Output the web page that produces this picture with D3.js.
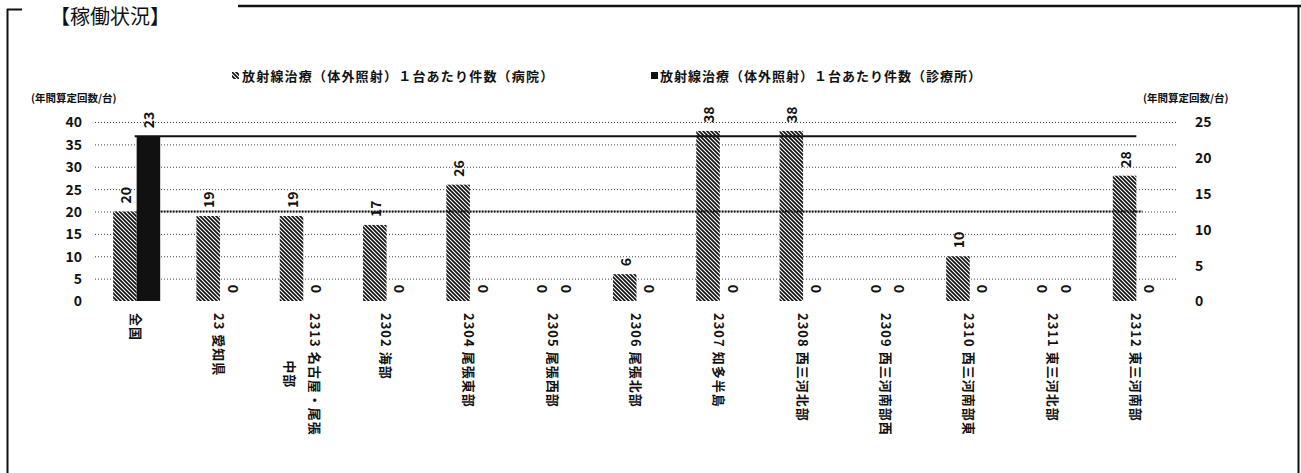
<!doctype html>
<html>
<head>
<meta charset="utf-8">
<script src="https://d3js.org/d3.v7.min.js"></script>
<style>
    body { margin:0; background:#fff; }
    text { font-family:"Noto Sans CJK JP","Noto Sans",sans-serif; fill:#111; }
</style>
</head>
<body>
<svg id="chart" width="1301" height="473" style="display:block;background:#fff"></svg>
<script>
// categories (a "\n" marks where the printed label wraps)
var categories = ["全国", "23 愛知県", "2313 名古屋・尾張\n中部", "2302 海部", "2304 尾張東部",
                  "2305 尾張西部", "2306 尾張北部", "2307 知多半島", "2308 西三河北部",
                  "2309 西三河南部西", "2310 西三河南部東", "2311 東三河北部", "2312 東三河南部"]
// 1台あたり件数 (病院) - left axis
var hospital = [20, 19, 19, 17, 26, 0, 6, 38, 38, 0, 10, 0, 28]
// 1台あたり件数 (診療所) - right axis
var clinic = [23, 0, 0, 0, 0, 0, 0, 0, 0, 0, 0, 0, 0]
var leftTicks = [0, 5, 10, 15, 20, 25, 30, 35, 40]
var rightTicks = [0, 5, 10, 15, 20, 25]
var seriesNames = ["放射線治療（体外照射）１台あたり件数（病院）", "放射線治療（体外照射）１台あたり件数（診療所）"]
var axisTitle = "(年間算定回数/台)"
var title = "【稼働状況】"

var svg = d3.select("#chart")

// hatch pattern
var defs = svg.append("defs")
var pat = defs.append("pattern").attr("id", "hatch").attr("patternUnits", "userSpaceOnUse")
    .attr("width", 4).attr("height", 4)
pat.append("rect").attr("width", 4).attr("height", 4).attr("fill", "#fff")
pat.append("path").attr("d", "M-1,-1L5,5M-1,3L1,5M3,-1L5,1")
    .attr("stroke", "#111").attr("stroke-width", 1.7)

// frame
svg.append("line").attr("x1", 7.5).attr("x2", 7.5).attr("y1", 9).attr("y2", 473).attr("stroke", "#111").attr("stroke-width", 2)
svg.append("line").attr("x1", 7).attr("x2", 22).attr("y1", 9.5).attr("y2", 9.5).attr("stroke", "#111").attr("stroke-width", 2)
svg.append("line").attr("x1", 238).attr("x2", 1301).attr("y1", 6).attr("y2", 6).attr("stroke", "#111").attr("stroke-width", 2.5)
svg.append("line").attr("x1", 1298.5).attr("x2", 1298.5).attr("y1", 6).attr("y2", 473).attr("stroke", "#111").attr("stroke-width", 2)
svg.append("text").text(title).attr("x", 50).attr("y", 24).attr("font-size", 20)

// scales
var x = d3.scaleBand().domain(categories).range([95, 1178])
var sub = d3.scaleBand().domain(["h", "c"]).range([0, x.bandwidth()]).paddingOuter(0.77)
var yL = d3.scaleLinear().domain([0, 40]).range([301, 122])
var yR = d3.scaleLinear().domain([0, 25]).range([301, 122])

// gridlines
var grid = svg.append("g").attr("transform", "translate(95,0)")
    .call(d3.axisLeft(yL).tickValues(leftTicks).tickSize(-(1178 - 95)).tickFormat(""))
grid.select(".domain").remove()
grid.selectAll("line").attr("stroke", "#444").attr("stroke-dasharray", "1,2").attr("stroke-width", 1)
grid.selectAll(".tick").filter(function(d) { return d == 0 }).remove()

// axes
var axL = svg.append("g").attr("transform", "translate(86,0)")
    .call(d3.axisLeft(yL).tickValues(leftTicks).tickSize(0).tickPadding(4))
var axR = svg.append("g").attr("transform", "translate(1189,0)")
    .call(d3.axisRight(yR).tickValues(rightTicks).tickSize(0).tickPadding(6))
svg.selectAll(".domain").remove()
axL.selectAll("text").attr("font-size", 14).attr("font-weight", "bold").attr("fill", "#111").attr("dy", "0.35em")
axR.selectAll("text").attr("font-size", 14).attr("font-weight", "bold").attr("fill", "#111").attr("dy", "0.35em")
axL.selectAll("text").style("font-family", "'Noto Sans CJK JP'")
axR.selectAll("text").style("font-family", "'Noto Sans CJK JP'")

svg.append("text").text(axisTitle).attr("x", 31).attr("y", 97).attr("font-size", 10.5).attr("font-weight", "bold").attr("dominant-baseline", "central")
svg.append("text").text(axisTitle).attr("x", 1143).attr("y", 97).attr("font-size", 10.5).attr("font-weight", "bold").attr("dominant-baseline", "central")

// bars
var nat = categories[0], last = categories[categories.length - 1]
svg.selectAll(".hbar").data(hospital).enter().append("rect")
    .attr("x", function(d, i) { return x(categories[i]) + sub("h") })
    .attr("width", sub.bandwidth())
    .attr("y", function(d) { return yL(d) })
    .attr("height", function(d) { return yL(0) - yL(d) })
    .attr("fill", "url(#hatch)")
svg.selectAll(".cbar").data(clinic).enter().append("rect")
    .attr("x", function(d, i) { return x(categories[i]) + sub("c") })
    .attr("width", sub.bandwidth())
    .attr("y", function(d) { return yR(d) })
    .attr("height", function(d) { return yR(0) - yR(d) })
    .attr("fill", "#111")

// national reference lines
svg.append("line").attr("x1", x(nat) + sub("c") - 2).attr("x2", x(last) + sub("c"))
    .attr("y1", yR(clinic[0])).attr("y2", yR(clinic[0]))
    .attr("stroke", "#111").attr("stroke-width", 2)
svg.append("line").attr("x1", x(nat) + sub("c")).attr("x2", x(last) + sub("c") + 6)
    .attr("y1", yL(hospital[0])).attr("y2", yL(hospital[0]))
    .attr("stroke", "#111").attr("stroke-width", 2).attr("stroke-dasharray", "2,1")

// value labels
function valueLabel(cx, top, v) {
    svg.append("text").text(v)
        .attr("transform", "translate(" + cx + "," + (top - 8) + ") rotate(-90)")
        .attr("text-anchor", "start").attr("dominant-baseline", "central")
        .attr("font-size", 14).attr("font-weight", "bold")
}
hospital.forEach(function(d, i) {
    valueLabel(x(categories[i]) + sub("h") + sub.bandwidth() / 2, yL(d), d)
})
clinic.forEach(function(d, i) {
    valueLabel(x(categories[i]) + sub("c") + sub.bandwidth() / 2, yR(d), d)
})

// category labels
categories.forEach(function(c) {
    var lines = c.split("\n")
    var g = svg.append("g").attr("transform", "translate(" + (x(c) + x.bandwidth() / 2) + ",313) rotate(90)")
    var first = g.append("text").text(lines[0]).attr("font-size", 13).attr("font-weight", "bold")
        .attr("letter-spacing", 1)
    var len = first.node().getComputedTextLength()
    first.remove()
    lines.forEach(function(l, j) {
        g.append("text").text(l).attr("x", len / 2)
            .attr("y", (j - (lines.length - 1) / 2) * 25)
            .attr("text-anchor", "middle").attr("dominant-baseline", "central")
            .attr("font-size", 13).attr("font-weight", "bold").attr("letter-spacing", 1)
    })
})

// legend
svg.append("rect").attr("x", 232).attr("y", 72).attr("width", 7).attr("height", 7).attr("fill", "url(#hatch)")
svg.append("text").text(seriesNames[0]).attr("x", 242).attr("y", 75).attr("dominant-baseline", "central")
    .attr("font-size", 13).attr("font-weight", "bold").attr("letter-spacing", 1.2)
svg.append("rect").attr("x", 651).attr("y", 72).attr("width", 7).attr("height", 7).attr("fill", "#111")
svg.append("text").text(seriesNames[1]).attr("x", 660).attr("y", 75).attr("dominant-baseline", "central")
    .attr("font-size", 13).attr("font-weight", "bold").attr("letter-spacing", 1)
</script>
</body>
</html>
